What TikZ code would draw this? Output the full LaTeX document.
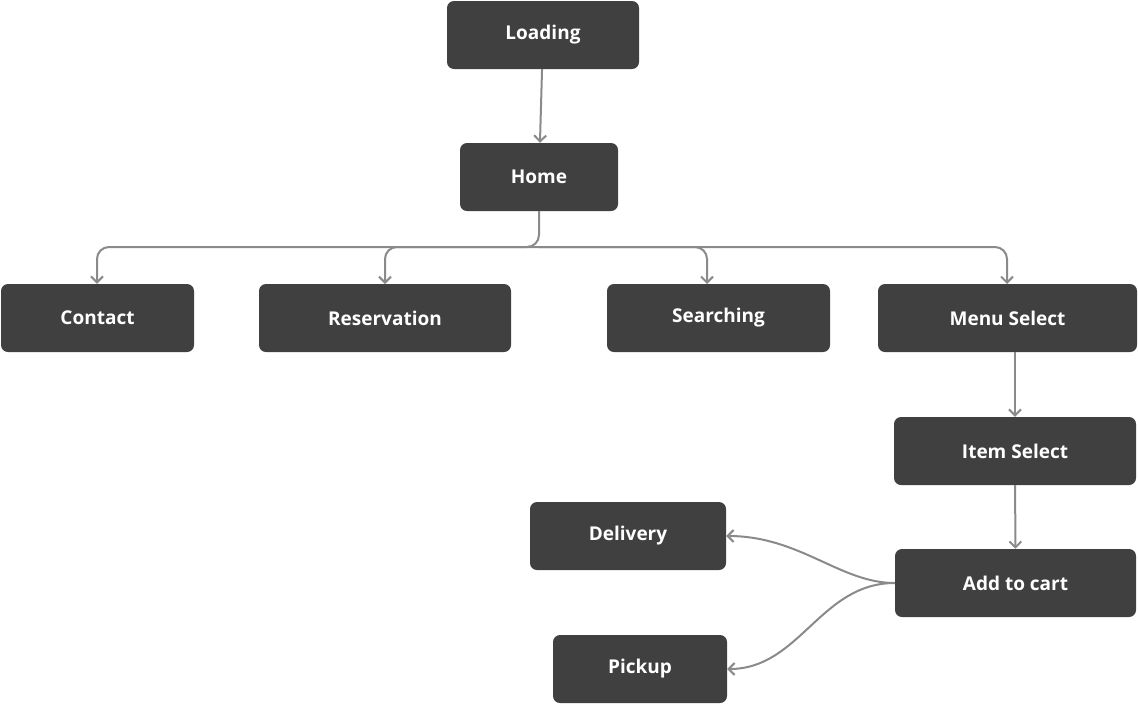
\documentclass[tikz,border=0pt]{standalone}
\usepackage{fontspec}
\setmainfont{Open Sans}
\usetikzlibrary{arrows.meta}
\definecolor{boxc}{HTML}{404040}
\definecolor{linec}{HTML}{8A8A8A}
\begin{document}
\begin{tikzpicture}[x=1pt,y=-1pt,
  box/.style={draw=none,fill=boxc,rounded corners=7pt,text=white,font=\fontsize{19}{22}\selectfont\bfseries,minimum height=68pt,inner sep=0pt},
  conn/.style={draw=linec,line width=2pt,-{Straight Barb[length=6pt,width=12pt]},rounded corners=12pt}]
\useasboundingbox (0,0) rectangle (1138,705);
\node[box,minimum width=192pt] (load) at (543,35) {Loading};
\node[box,minimum width=158pt] (home) at (539,177) {Home};
\node[box,minimum width=193pt] (contact) at (97.5,318) {Contact};
\node[box,minimum width=252pt] (res) at (385,318) {Reservation};
\node[box,minimum width=223pt] (search) at (718.5,318) {Searching};
\node[box,minimum width=259pt] (menu) at (1007.5,318) {Menu Select};
\node[box,minimum width=242pt] (item) at (1015,451) {Item Select};
\node[box,minimum width=241pt] (cart) at (1015.5,583) {Add to cart};
\node[box,minimum width=196pt] (deliv) at (628,536) {Delivery};
\node[box,minimum width=174pt] (pick) at (640,669) {Pickup};
\coordinate (br) at (539,247);
\draw[conn] (load) -- (home);
\draw[conn] (home.south) -- (br) -| (contact.north -| 97,0);
\draw[conn] (br) -| (385,284);
\draw[conn] (br) -| (707,284);
\draw[conn] (br) -| (1007,284);
\draw[conn] (1015,352) -- (item.north);
\draw[conn] (item) -- (cart);
\draw[conn,rounded corners=0pt] (cart.west) .. controls (840,583) and (800,536) .. (deliv.east);
\draw[conn,rounded corners=0pt] (cart.west) .. controls (820,583) and (800,669) .. (pick.east);
\end{tikzpicture}
\end{document}
